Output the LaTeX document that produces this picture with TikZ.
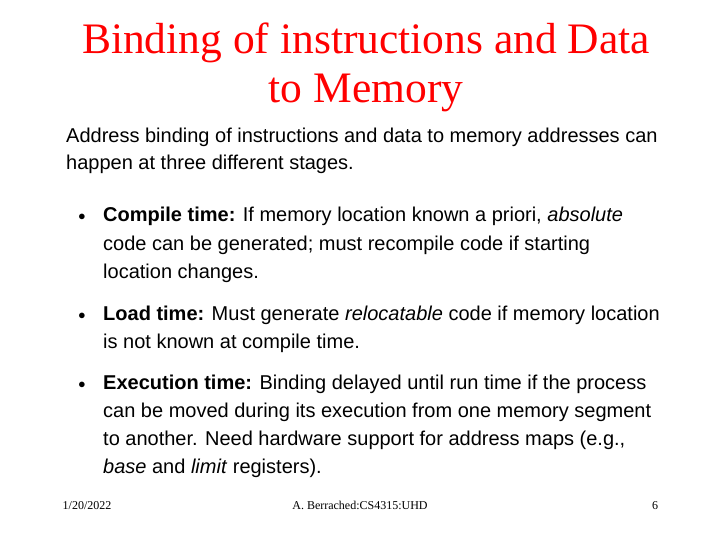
\documentclass[tikz,border=0pt]{standalone}
\usepackage{fontspec}
\setmainfont{Liberation Serif}
\newfontfamily\bodyf{Liberation Sans}
\begin{document}
\begin{tikzpicture}[x=1pt,y=-1pt,
  ttl/.style={anchor=base,text=red,font=\fontsize{43.5}{48}\selectfont,inner sep=0},
  ln/.style={anchor=base west,font=\bodyf\fontsize{20}{22}\selectfont,inner sep=0},
  bul/.style={anchor=base,font=\bodyf\fontsize{14}{16}\selectfont,inner sep=0},
  ft/.style={anchor=base,font=\fontsize{12}{14}\selectfont,inner sep=0}]
\useasboundingbox[fill=white] (0,0) rectangle (720,540);
\node[ttl] (t1) at (366,54) {Binding of instructions and Data};
\node[ttl] (t2) at (366,103) {to Memory};
\node[ln] (a1) at (66,143) {Address binding of instructions and data to memory addresses can};
\node[ln] (a2) at (66,170) {happen at three different stages.};
\node[bul] (b1) at (82,221) {$\bullet$};
\node[ln] (c1) at (103,222) {\textbf{Compile time:} If memory location known a priori, \textit{absolute}};
\node[ln] (c2) at (103,250) {code can be generated; must recompile code if starting};
\node[ln] (c3) at (103,278) {location changes.};
\node[bul] (b2) at (82,319) {$\bullet$};
\node[ln] (d1) at (103,320) {\textbf{Load time:} Must generate \textit{relocatable} code if memory location};
\node[ln] (d2) at (103,348) {is not known at compile time.};
\node[bul] (b3) at (82,388) {$\bullet$};
\node[ln] (e1) at (103,389) {\textbf{Execution time:} Binding delayed until run time if the process};
\node[ln] (e2) at (103,417) {can be moved during its execution from one memory segment};
\node[ln] (e3) at (103,445) {to another. Need hardware support for address maps (e.g.,};
\node[ln] (e4) at (103,473) {\textit{base} and \textit{limit} registers).};
\node[ft] (f1) at (87,509) {1/20/2022};
\node[ft] (f2) at (360,509) {A. Berrached:CS4315:UHD};
\node[ft] (f3) at (655,509) {6};
\end{tikzpicture}
\end{document}
